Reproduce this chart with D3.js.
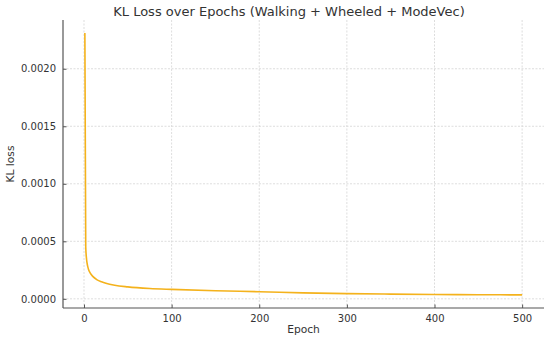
<!DOCTYPE html>
<html>
<head>
<meta charset="utf-8">
<script src="https://cdn.jsdelivr.net/npm/d3@7"></script>
<style>
  body { margin: 0; background: #fff; }
  text { font-family: "DejaVu Sans", sans-serif; fill: #333; }
</style>
</head>
<body>
<div id="chart"></div>
<script>
// values
var epochs = [1, 2, 3, 4, 5, 7, 10, 15, 20, 25, 35, 50, 75, 100, 150, 200, 250, 300, 350, 400, 450, 500];
var klLoss = [0.00231, 0.00045, 0.00034, 0.00029, 0.00026, 0.000225, 0.000195, 0.000165, 0.000148, 0.000135,
              0.000118, 0.000104, 0.00009, 0.000082, 0.00007, 0.000062, 0.000052, 0.000045, 0.000041, 0.000038,
              0.000036, 0.000034];
var xTicks = [0, 100, 200, 300, 400, 500];
var yTicks = [0, 0.0005, 0.001, 0.0015, 0.002];

var width = 550, height = 338;
var margin = {top: 20, right: 6, bottom: 30, left: 63};
var w = width - margin.left - margin.right;
var h = height - margin.top - margin.bottom;

var svg = d3.select("#chart").append("svg")
    .attr("width", width)
    .attr("height", height);

var g = svg.append("g")
    .attr("transform", "translate(" + margin.left + "," + margin.top + ")");

var yMin = d3.min(klLoss), yMax = d3.max(klLoss);
var yPad = (yMax - yMin) * 0.05;
var x = d3.scaleLinear().domain([1 - 499 * 0.05, 500 + 499 * 0.05]).range([0, w]);
var y = d3.scaleLinear().domain([yMin - yPad, yMax + yPad]).range([h, 0]);

// grid
g.append("g").selectAll("line").data(xTicks).enter().append("line")
    .attr("x1", function(d) { return x(d); })
    .attr("x2", function(d) { return x(d); })
    .attr("y1", 0).attr("y2", h)
    .style("stroke", "#d4d4d4").style("stroke-width", 0.8).style("stroke-dasharray", "2,1.5");
g.append("g").selectAll("line").data(yTicks).enter().append("line")
    .attr("y1", function(d) { return y(d); })
    .attr("y2", function(d) { return y(d); })
    .attr("x1", 0).attr("x2", w)
    .style("stroke", "#d4d4d4").style("stroke-width", 0.8).style("stroke-dasharray", "2,1.5");

// line
var line = d3.line()
    .x(function(d, i) { return x(epochs[i]); })
    .y(function(d) { return y(d); })
    .curve(d3.curveMonotoneX);
g.append("path")
    .datum(klLoss)
    .attr("d", line)
    .style("fill", "none")
    .style("stroke", "#f4b21c")
    .style("stroke-width", 1.6);

// axes, ticks pointing in
var xAxis = g.append("g")
    .attr("transform", "translate(0," + h + ")")
    .call(d3.axisBottom(x).tickValues(xTicks).tickSize(-3.5).tickPadding(7).tickSizeOuter(0));
var yAxis = g.append("g")
    .call(d3.axisLeft(y).tickValues(yTicks).tickFormat(d3.format(".4f")).tickSize(-3.5).tickPadding(7).tickSizeOuter(0));

[xAxis, yAxis].forEach(function(a) {
    a.selectAll("text").style("font-size", "10px").style("fill", "#333").style("font-family", "DejaVu Sans");
    a.selectAll("line").style("stroke", "#555");
    a.select(".domain").style("stroke", "#555").style("stroke-width", 1.2);
});
// extend spines to full box edge
xAxis.select(".domain").attr("d", "M0,0H" + w);
yAxis.select(".domain").attr("d", "M0,0V" + h);

// labels
svg.append("text")
    .attr("x", margin.left + w / 2)
    .attr("y", 333)
    .attr("text-anchor", "middle")
    .style("font-size", "10.7px")
    .text("Epoch");

svg.append("text")
    .attr("transform", "translate(14," + (margin.top + h / 2) + ") rotate(-90)")
    .attr("text-anchor", "middle")
    .style("font-size", "10.7px")
    .text("KL loss");

svg.append("text")
    .attr("x", 289)
    .attr("y", 16)
    .attr("text-anchor", "middle")
    .style("font-size", "13px")
    .text("KL Loss over Epochs (Walking + Wheeled + ModeVec)");
</script>
</body>
</html>
